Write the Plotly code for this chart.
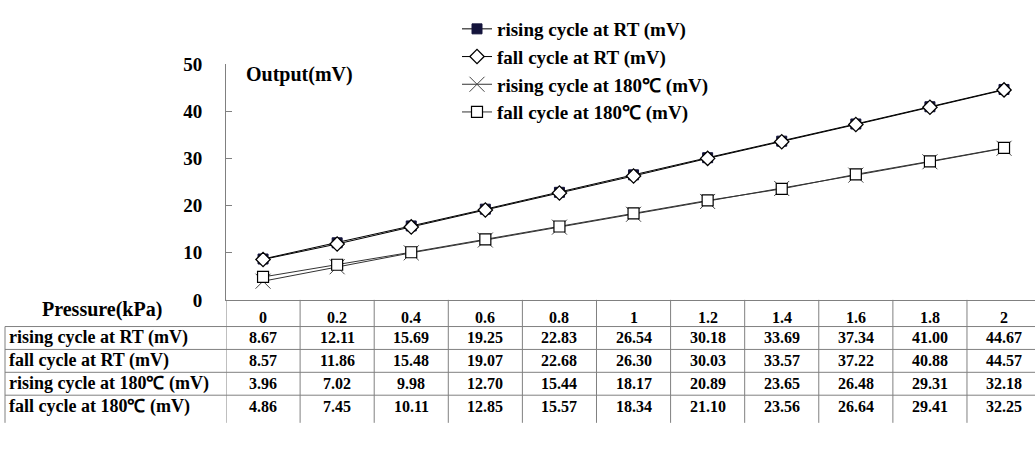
import plotly.graph_objects as go

# ---------------- data ----------------
pressure = ["0", "0.2", "0.4", "0.6", "0.8", "1", "1.2", "1.4", "1.6", "1.8", "2"]
series_names = [
    "rising cycle at RT (mV)",
    "fall cycle at RT (mV)",
    "rising cycle at 180\u2103 (mV)",
    "fall cycle at 180\u2103 (mV)",
]
rising_rt = [8.67, 12.11, 15.69, 19.25, 22.83, 26.54, 30.18, 33.69, 37.34, 41.00, 44.67]
fall_rt = [8.57, 11.86, 15.48, 19.07, 22.68, 26.30, 30.03, 33.57, 37.22, 40.88, 44.57]
rising_180 = [3.96, 7.02, 9.98, 12.70, 15.44, 18.17, 20.89, 23.65, 26.48, 29.31, 32.18]
fall_180 = [4.86, 7.45, 10.11, 12.85, 15.57, 18.34, 21.10, 23.56, 26.64, 29.41, 32.25]
y_ticks = [0, 10, 20, 30, 40, 50]

values = [rising_rt, fall_rt, rising_180, fall_180]

# ---------------- layout helpers ----------------
W, H = 1035, 451
SERIF = "Liberation Serif"
GRID = "#808080"


def py(p):
    return 1 - p / H


def px(p):
    return p / W


x_idx = list(range(len(pressure)))

styles = [
    dict(symbol="square", size=10, color="#14143c", line=dict(color="#14143c", width=1)),
    dict(symbol="diamond", size=11, color="white", line=dict(color="black", width=1.3)),
    dict(symbol="x-thin-open", size=15, color="#444444", line=dict(color="#444444", width=1)),
    dict(symbol="square", size=11, color="white", line=dict(color="black", width=1.2)),
]
line_colors = ["black", "black", "#333333", "#333333"]

fig = go.Figure()
for name, vals, st, lc in zip(series_names, values, styles, line_colors):
    fig.add_trace(go.Scatter(
        x=x_idx, y=vals, name=name, mode="lines+markers",
        line=dict(color=lc, width=1), marker=st,
    ))

shapes = []
annotations = []

top_table = 304
row_lines = [332, 356, 380, 404]
row_centers = [344, 368, 392, 416]
bottom_table = 433

# vertical column borders
for i in range(len(pressure) + 1):
    shapes.append(dict(type="line", xref="x", yref="paper",
                       x0=i - 0.5, x1=i - 0.5, y0=py(top_table), y1=py(bottom_table),
                       line=dict(color=GRID, width=1)))
# row-label column left border
shapes.append(dict(type="line", xref="paper", yref="paper",
                   x0=px(5), x1=px(5), y0=py(row_lines[0]), y1=py(bottom_table),
                   line=dict(color=GRID, width=1)))
# horizontal row borders
for r in row_lines:
    shapes.append(dict(type="line", xref="paper", yref="paper",
                       x0=px(5), x1=1, y0=py(r), y1=py(r),
                       line=dict(color=GRID, width=1)))

# header row (pressure values)
for i, c in enumerate(pressure):
    annotations.append(dict(x=i, y=py(322), xref="x", yref="paper", text=c,
                            showarrow=False, xanchor="center", yanchor="middle",
                            font=dict(family=SERIF, size=16, color="black", weight="bold")))
annotations.append(dict(x=px(102), y=py(314), xref="paper", yref="paper", text="Pressure(kPa)",
                        showarrow=False, xanchor="center", yanchor="middle",
                        font=dict(family=SERIF, size=20, color="black", weight="bold")))

# data rows
for name, vals, yc in zip(series_names, values, row_centers):
    annotations.append(dict(x=px(7), y=py(yc), xref="paper", yref="paper", text=name,
                            showarrow=False, xanchor="left", yanchor="middle",
                            font=dict(family=SERIF, size=18, color="black", weight="bold")))
    for i, v in enumerate(vals):
        annotations.append(dict(x=i, y=py(yc), xref="x", yref="paper", text=f"{v:.2f}",
                                showarrow=False, xanchor="center", yanchor="middle",
                                font=dict(family=SERIF, size=16, color="black", weight="bold")))

# axis title inside plot
annotations.append(dict(x=px(244), y=py(68), xref="paper", yref="paper", text="Output(mV)",
                        showarrow=False, xanchor="left", yanchor="middle",
                        font=dict(family=SERIF, size=20, color="black", weight="bold")))

fig.update_layout(
    width=W, height=H,
    margin=dict(l=0, r=0, t=0, b=0),
    paper_bgcolor="white", plot_bgcolor="white",
    shapes=shapes, annotations=annotations,
    legend=dict(x=px(457), y=1, xanchor="left", yanchor="top",
                font=dict(family=SERIF, size=19, color="black", weight="bold"),
                bgcolor="rgba(0,0,0,0)", itemwidth=30, tracegroupgap=0),
    showlegend=True,
)
fig.update_xaxes(
    domain=[px(226), 1], range=[-0.5, 10.418],
    showline=True, linecolor=GRID, linewidth=1,
    showticklabels=False, ticks="", showgrid=False, zeroline=False,
)
fig.update_yaxes(
    domain=[py(304), py(57)], range=[0, 50],
    tickvals=y_ticks, ticktext=[str(t) for t in y_ticks],
    showline=True, linecolor=GRID, linewidth=1,
    ticks="inside", ticklen=6, tickcolor=GRID,
    ticklabelstandoff=19,
    tickfont=dict(family=SERIF, size=19, color="black", weight="bold"),
    showgrid=False, zeroline=False,
)

fig.write_html(
    "out.html",
    config={"displayModeBar": False},
    post_script="document.body.style.margin='0';document.body.style.overflow='hidden';",
)
